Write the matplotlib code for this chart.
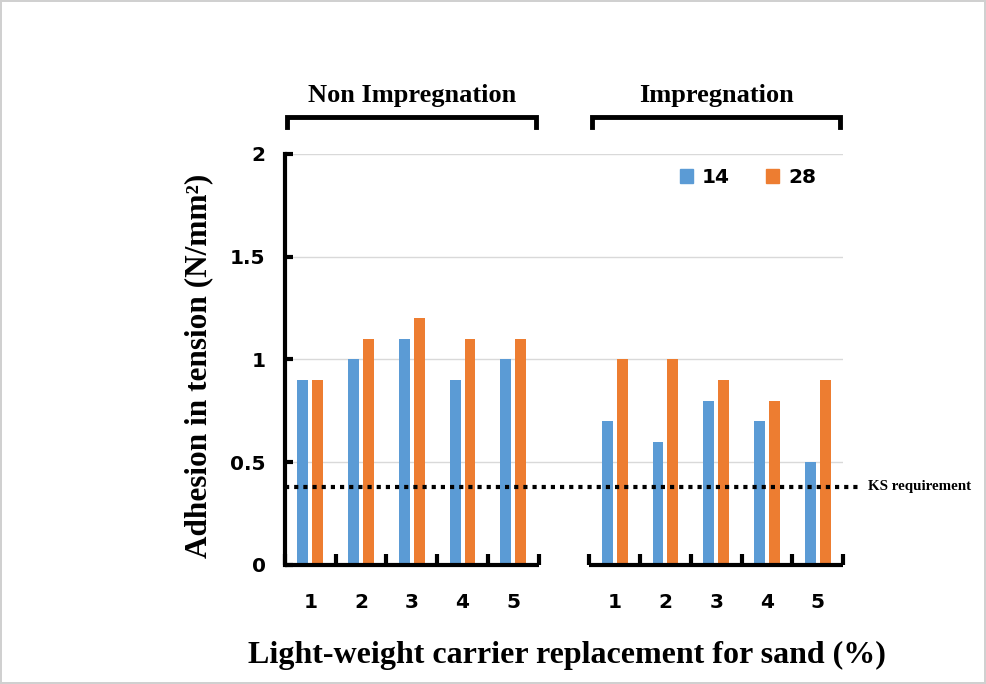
import numpy as np
import matplotlib
matplotlib.use("Agg")
from matplotlib import pyplot as plt
from matplotlib.patches import Patch

groups = ["Non Impregnation", "Impregnation"]
categories = ["1", "2", "3", "4", "5"]
non_14 = [0.9, 1.0, 1.1, 0.9, 1.0]
non_28 = [0.9, 1.1, 1.2, 1.1, 1.1]
imp_14 = [0.7, 0.6, 0.8, 0.7, 0.5]
imp_28 = [1.0, 1.0, 0.9, 0.8, 0.9]
ks_requirement = 0.38
yticks = [0, 0.5, 1, 1.5, 2]

blue = '#5B9BD5'
orange = '#ED7D31'
serif = 'Liberation Serif'
sans = 'DejaVu Sans'

fig = plt.figure(figsize=(9.86, 6.84), dpi=100)
fig.patch.set_edgecolor('#D0D0D0')
fig.patch.set_linewidth(1.5)
ax = fig.add_axes([0.289, 0.174, 0.566, 0.601])

n = len(categories)
x1 = np.arange(n)
x2 = np.arange(n) + n + 1
off, w = 0.147, 0.215

ax.bar(x1 - off, non_14, w, color=blue, zorder=3)
ax.bar(x1 + off, non_28, w, color=orange, zorder=3)
ax.bar(x2 - off, imp_14, w, color=blue, zorder=3)
ax.bar(x2 + off, imp_28, w, color=orange, zorder=3)

xmin, xmax = -0.5, 2 * n + 0.5
ax.set_xlim(xmin, xmax)
ax.set_ylim(0, 2)

# gridlines
for y in yticks[1:]:
    ax.axhline(y, color='#D9D9D9', linewidth=1, zorder=1)

# spines
for s in ['top', 'right', 'bottom']:
    ax.spines[s].set_visible(False)
ax.spines['left'].set_linewidth(3)
ax.spines['left'].set_zorder(5)

# broken x-axis: two segments
ax.hlines(0, xmin, n - 0.5, color='black', linewidth=3, zorder=5, clip_on=False)
ax.hlines(0, n + 0.5, xmax, color='black', linewidth=3, zorder=5, clip_on=False)

ax.set_yticks(yticks)
ax.set_yticklabels(['0', '0.5', '1', '1.5', '2'], fontsize=14.5, fontweight='bold', family=sans)
ax.tick_params(axis='y', direction='in', length=6, width=3, pad=14)

ax.set_xticks(list(x1) + list(x2))
ax.set_xticklabels(categories + categories, fontsize=14.5, fontweight='bold', family=sans)
ax.set_xticks(np.concatenate([np.arange(xmin, n), np.arange(n + 0.5, xmax + 0.1)]), minor=True)
ax.tick_params(axis='x', which='major', length=0, pad=20)
ax.tick_params(axis='x', which='minor', direction='in', length=8, width=3)

# KS requirement line
ax.hlines(ks_requirement, xmin, 10.8, color='black', linestyle=(0, (1, 1.2)), linewidth=3,
          zorder=4, clip_on=False)
ax.text(11.0, ks_requirement, 'KS requirement', family=serif, fontweight='bold', fontsize=10.8,
        va='center', ha='left')

# group brackets and labels
for g, xs in zip(groups, [x1, x2]):
    left, right = xs[0] - 0.45, xs[-1] + 0.45
    ax.plot([left, left, right, right], [2.13, 2.18, 2.18, 2.13], color='black',
            linewidth=3.5, clip_on=False, solid_joinstyle='miter')
    ax.text((left + right) / 2, 2.285, g, family=serif, fontweight='bold', fontsize=19,
            ha='center', va='center')

ax.set_xlabel('Light-weight carrier replacement for sand (%)', family=serif,
              fontweight='bold', fontsize=23)
ax.set_ylabel('Adhesion in tension (N/mm²)', family=serif, fontweight='bold',
              fontsize=22.5)
ax.xaxis.set_label_coords(0.505, -0.185)
ax.yaxis.set_label_coords(-0.128, 0.485)

handles = [Patch(color=blue, label='14'), Patch(color=orange, label='28')]
leg = ax.legend(handles=handles, ncol=2, frameon=False, loc='upper right',
                bbox_to_anchor=(0.985, 1.01), handlelength=0.65, handleheight=0.65,
                columnspacing=1.8, handletextpad=0.45,
                prop={'family': sans, 'weight': 'bold', 'size': 14.5})

fig.savefig('out.png', dpi=100)
